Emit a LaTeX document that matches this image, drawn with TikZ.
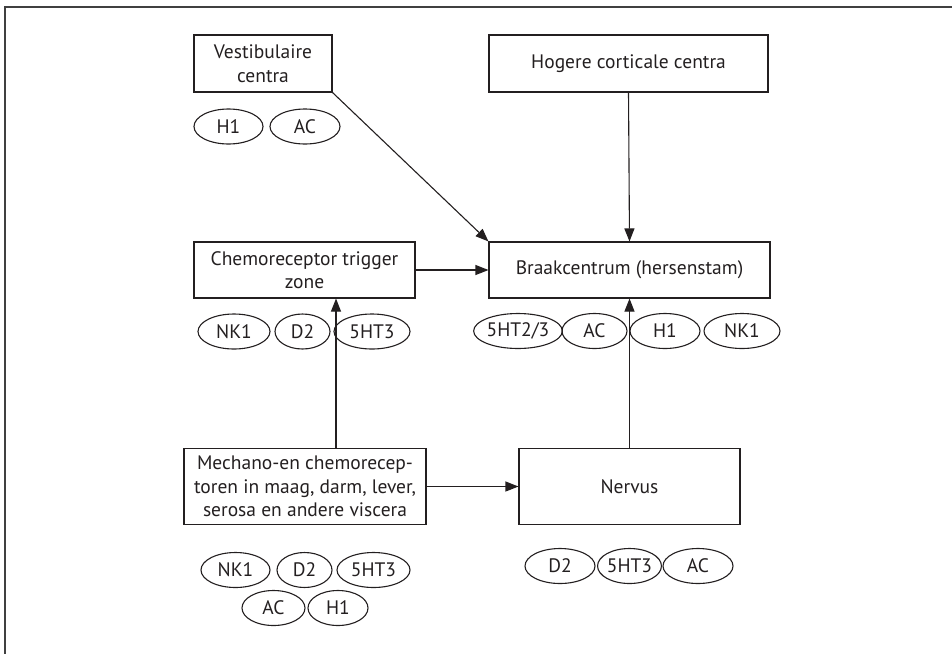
\documentclass[tikz,border=0pt]{standalone}
\usepackage{fontspec}
\setmainfont{PT Sans}
\usetikzlibrary{arrows.meta,shapes.geometric}
\definecolor{ink}{HTML}{231F20}
\begin{document}
\begin{tikzpicture}[x=1pt,y=-1pt,
  every node/.style={text=ink,font=\fontsize{19.5}{23.5}\selectfont},
  box/.style={draw=ink,line width=1.1pt,rectangle,align=center,inner sep=0pt},
  oval/.style={draw=ink,line width=1.1pt,ellipse,inner sep=0pt,minimum height=35pt},
  arr/.style={draw=ink,line width=1.1pt,-{Triangle[length=13pt,width=10pt]}},
  frame/.style={draw=black!75,line width=1.5pt}]
\useasboundingbox (0,0) rectangle (952,654);
% frame (top and left edges)
\coordinate (ftr) at (952,7);
\coordinate (ftl) at (5,7);
\coordinate (fbl) at (5,654);
\draw[frame] (ftr) -- (ftl) -- (fbl);
% boxes
\node[box,minimum width=138pt,minimum height=57pt] (vest) at (263,63.5) {Vestibulaire\\centra};
\node[box,minimum width=279pt,minimum height=57pt] (hog) at (628.5,63.5) {Hogere corticale centra};
\node[box,minimum width=221pt,minimum height=56pt] (ctz) at (304.5,270) {Chemoreceptor trigger\\zone};
\node[box,minimum width=281pt,minimum height=56pt] (braak) at (629.5,270) {Braakcentrum (hersenstam)};
\node[box,minimum width=242pt,minimum height=76pt] (mech) at (305,486.5) {Mechano-en chemorecep-\\toren in maag, darm, lever,\\serosa en andere viscera};
\node[box,minimum width=221pt,minimum height=76pt] (nerv) at (629.5,486.5) {Nervus};
% ovals
\node[oval,minimum width=69pt] (vh1) at (228.5,126.5) {H1};
\node[oval,minimum width=70pt] (vac) at (305,126.5) {AC};
\node[oval,minimum width=72pt] (cnk) at (234,331.5) {NK1};
\node[oval,minimum width=55pt] (cd2) at (302.5,331.5) {D2};
\node[oval,minimum width=76pt] (c5ht) at (372,331.5) {5HT3};
\node[oval,minimum width=76pt] (b5ht) at (518,331) {5HT2/3};
\node[oval,minimum width=65pt] (bac) at (594.5,331) {AC};
\node[oval,minimum width=70pt] (bh1) at (665,331) {H1};
\node[oval,minimum width=76pt] (bnk) at (742,331) {NK1};
\node[oval,minimum width=69pt] (mnk) at (235.5,570) {NK1};
\node[oval,minimum width=55pt] (md2) at (304.5,570) {D2};
\node[oval,minimum width=73pt] (m5ht) at (373.5,570) {5HT3};
\node[oval,minimum width=63pt] (mac) at (273.5,608) {AC};
\node[oval,minimum width=60pt] (mh1) at (338,608) {H1};
\node[oval,minimum width=70pt] (nd2) at (560,566) {D2};
\node[oval,minimum width=55pt] (n5ht) at (629.5,566) {5HT3};
\node[oval,minimum width=70pt] (nac) at (698,566) {AC};
% connectors
\coordinate (upx) at (336,400);
\draw[arr] (vest.south east) -- (braak.north west);
\draw[arr] (hog.south) -- (braak.north);
\draw[arr] (ctz.east) -- (braak.west |- ctz.east);
\draw[arr] (mech.north -| upx) -- (ctz.south -| upx);
\draw[arr] (mech.east) -- (nerv.west |- mech.east);
\draw[arr] (nerv.north) -- (braak.south);
\end{tikzpicture}
\end{document}
